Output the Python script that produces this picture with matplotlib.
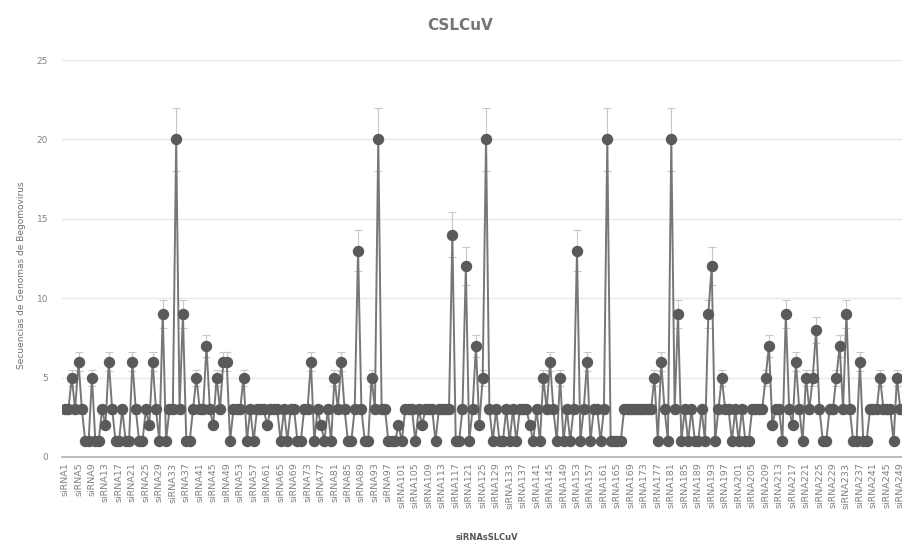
import numpy as np
import matplotlib
matplotlib.use("Agg")
import matplotlib.pyplot as plt

# Values (siRNA1 ... siRNA250)
values = [
    3, 3, 5, 3, 6, 3, 1, 1, 5, 1,      # 1-10
    1, 3, 2, 6, 3, 1, 1, 3, 1, 1,      # 11-20
    6, 3, 1, 1, 3, 2, 6, 3, 1, 9,      # 21-30
    1, 3, 3, 20, 3, 9, 1, 1, 3, 5,     # 31-40
    3, 3, 7, 3, 2, 5, 3, 6, 6, 1,      # 41-50
    3, 3, 3, 5, 1, 3, 1, 3, 3, 3,      # 51-60
    2, 3, 3, 3, 1, 3, 1, 3, 3, 1,      # 61-70
    1, 3, 3, 6, 1, 3, 2, 1, 3, 1,      # 71-80
    5, 3, 6, 3, 1, 1, 3, 13, 3, 1,     # 81-90
    1, 5, 3, 20, 3, 3, 1, 1, 1, 2,     # 91-100
    1, 3, 3, 3, 1, 3, 2, 3, 3, 3,      # 101-110
    1, 3, 3, 3, 3, 14, 1, 1, 3, 12,    # 111-120
    1, 3, 7, 2, 5, 20, 3, 1, 3, 1,     # 121-130
    1, 3, 1, 3, 1, 3, 3, 3, 2, 1,      # 131-140
    3, 1, 5, 3, 6, 3, 1, 5, 1, 3,      # 141-150
    1, 3, 13, 1, 3, 6, 1, 3, 3, 1,     # 151-160
    3, 20, 1, 1, 1, 1, 3, 3, 3, 3,     # 161-170
    3, 3, 3, 3, 3, 5, 1, 6, 3, 1,      # 171-180
    20, 3, 9, 1, 3, 1, 3, 1, 1, 3,     # 181-190
    1, 9, 12, 1, 3, 5, 3, 3, 1, 3,     # 191-200
    1, 3, 1, 1, 3, 3, 3, 3, 5, 7,      # 201-210
    2, 3, 3, 1, 9, 3, 2, 6, 3, 1,      # 211-220
    5, 3, 5, 8, 3, 1, 1, 3, 3, 5,      # 221-230
    7, 3, 9, 3, 1, 1, 6, 1, 1, 3,      # 231-240
    3, 3, 5, 3, 3, 3, 1, 5, 3, 3,      # 241-250
]
labels = [f"siRNA{i + 1}" for i in range(len(values))]
errors = [0.1 * v for v in values]

TITLE = "CSLCuV"
XLABEL = "siRNAsSLCuV"
YLABEL = "Secuencias de Genomas de Begomovirus"

fig = plt.figure(figsize=(9.02, 5.43), dpi=100)
ax = fig.add_axes([62 / 902, 1 - 457 / 543, 1 - 62 / 902, (457 - 60) / 543])

x = np.arange(len(values))
ax.errorbar(x, values, yerr=errors, fmt="none", ecolor="#c8c8c8",
            elinewidth=0.8, capsize=3, capthick=0.8, zorder=1)
ax.plot(x, values, "-", color="#777777", lw=1.4, zorder=2)
ax.plot(x, values, "o", color="#5a5a5a", ms=7.2, mec="#5a5a5a", zorder=3)

ax.set_ylim(0, 25)
ax.set_yticks([0, 5, 10, 15, 20, 25])
ax.set_xlim(-0.9, 248.5)
ax.set_xticks(x[::4])
ax.set_xticklabels(labels[::4], rotation=90, fontsize=6.8, color="#808080")
ax.tick_params(axis="y", labelsize=6.5, colors="#808080", length=0, pad=10)
ax.tick_params(axis="x", length=0, pad=4)

ax.grid(axis="y", color="#e8e8e8", lw=1)
ax.set_axisbelow(True)
for s in ("top", "right", "left"):
    ax.spines[s].set_visible(False)
ax.spines["bottom"].set_color("#b0b0b0")
ax.spines["bottom"].set_linewidth(1.2)

fig.text(0.51, 1 - 25 / 543, TITLE, ha="center", va="center",
         fontsize=11, fontweight="bold", color="#757575")
fig.text(0.54, 1 - 537 / 543, XLABEL, ha="center", va="center",
         fontsize=6, fontweight="bold", color="#555555")
fig.text(22 / 902, 1 - 275 / 543, YLABEL, ha="center", va="center",
         rotation=90, fontsize=6.5, color="#707070")

fig.savefig("out.png", dpi=100)
